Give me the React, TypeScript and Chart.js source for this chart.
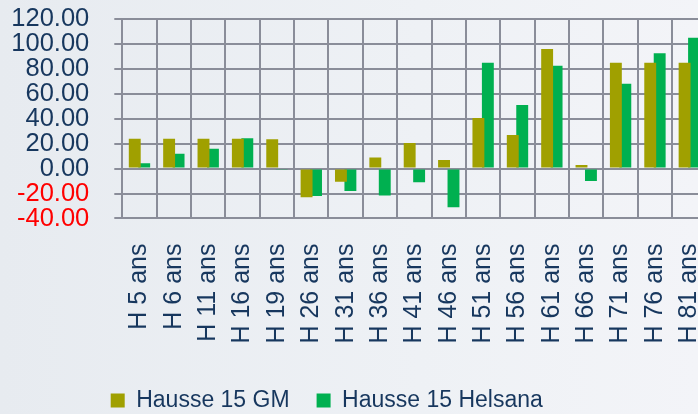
import React, { useEffect, useRef } from 'react';
import { Chart, registerables } from 'chart.js';

Chart.register(...registerables);

const categories = [
  'H 5 ans', 'H 6 ans', 'H 11 ans', 'H 16 ans', 'H 19 ans', 'H 26 ans', 'H 31 ans', 'H 36 ans', 'H 41 ans',
  'H 46 ans', 'H 51 ans', 'H 56 ans', 'H 61 ans', 'H 66 ans', 'H 71 ans', 'H 76 ans', 'H 81 ans',
];
const seriesNames = ['Hausse 15 GM', 'Hausse 15 Helsana'];
const hausseGM = [24, 24, 24, 24, 23.5, -23, -10.5, 9, 20.5, 7, 40.5, 27, 96, 3, 85, 85, 85];
const hausseHelsana = [4.3, 12, 16, 24.3, -1, -22, -18, -21.5, -11, -31, 85, 51, 82.5, -10, 68, 92.5, 105];
const yMin = -40;
const yMax = 120;
const yStep = 20;

const FONT = "'Liberation Sans', Arial, sans-serif";
const NAVY = '#17375e';
const GRID = '#8a8d99';

export default function App() {
  const ref = useRef<HTMLCanvasElement | null>(null);

  useEffect(() => {
    if (!ref.current) return;
    const legendShift = {
      id: 'legendShift',
      afterLayout(chart: any) {
        const lg = chart.legend;
        if (lg) {
          lg.left = 110.7 - 27;
        }
      },
    };
    const chart = new Chart(ref.current, {
      type: 'bar',
      data: {
        labels: categories,
        datasets: [
          {
            label: seriesNames[0],
            data: hausseGM,
            backgroundColor: '#a0a000',
            borderWidth: 0,
            categoryPercentage: 0.55,
            barPercentage: 1.26,
          },
          {
            label: seriesNames[1],
            data: hausseHelsana,
            backgroundColor: '#00b050',
            borderWidth: 0,
            categoryPercentage: 0.55,
            barPercentage: 1.26,
          },
        ],
      },
      options: {
        responsive: false,
        animation: false,
        layout: { padding: { left: 0, top: 19, right: 5.5, bottom: 0 } },
        plugins: {
          tooltip: { enabled: false },
          legend: {
            position: 'bottom',
            align: 'start',
            title: { display: true, text: ' ', font: { size: 10, lineHeight: 1 }, padding: { top: 8.45, bottom: 0 } },
            labels: {
              boxWidth: 14,
              boxHeight: 14,
              padding: 27,
              color: NAVY,
              font: { family: FONT, size: 23 },
            },
          },
        },
        scales: {
          x: {
            grid: {
              color: GRID,
              lineWidth: 2,
              offset: true,
              drawTicks: true,
              tickLength: 25,
              tickColor: 'rgba(0,0,0,0)',
            },
            border: { display: true, color: GRID, width: 2 },
            ticks: {
              minRotation: 90,
              maxRotation: 90,
              autoSkip: false,
              padding: 0,
              color: NAVY,
              font: { family: FONT, size: 25 },
            },
            afterFit: (scale: any) => {
              scale.paddingLeft = 0;
              scale.paddingRight = 0;
            },
          },
          y: {
            z: 1,
            min: yMin,
            max: yMax,
            grid: { color: GRID, lineWidth: 2, tickLength: 8, tickColor: GRID },
            border: { display: true, color: GRID, width: 2 },
            ticks: {
              stepSize: yStep,
              autoSkip: false,
              padding: 25,
              font: { family: FONT, size: 25.5 },
              color: (ctx: any) => (ctx.tick && ctx.tick.value < 0 ? '#ff0000' : NAVY),
              callback: (v: any) => Number(v).toFixed(2),
            },
            afterFit: (scale: any) => {
              scale.width = 122.3;
              scale.paddingTop = 0;
              scale.paddingBottom = 0;
            },
          },
        },
      },
      plugins: [legendShift],
    } as any);
    return () => chart.destroy();
  }, []);

  return (
    <div
      style={{
        position: 'absolute',
        left: 0,
        top: 0,
        width: 698,
        height: 414,
        overflow: 'hidden',
        background: 'linear-gradient(90deg, #e7ebf0 0%, #eef1f5 60%, #f3f4f8 100%)',
      }}
    >
      <canvas ref={ref} width={712} height={422} style={{ display: 'block' }} />
    </div>
  );
}
